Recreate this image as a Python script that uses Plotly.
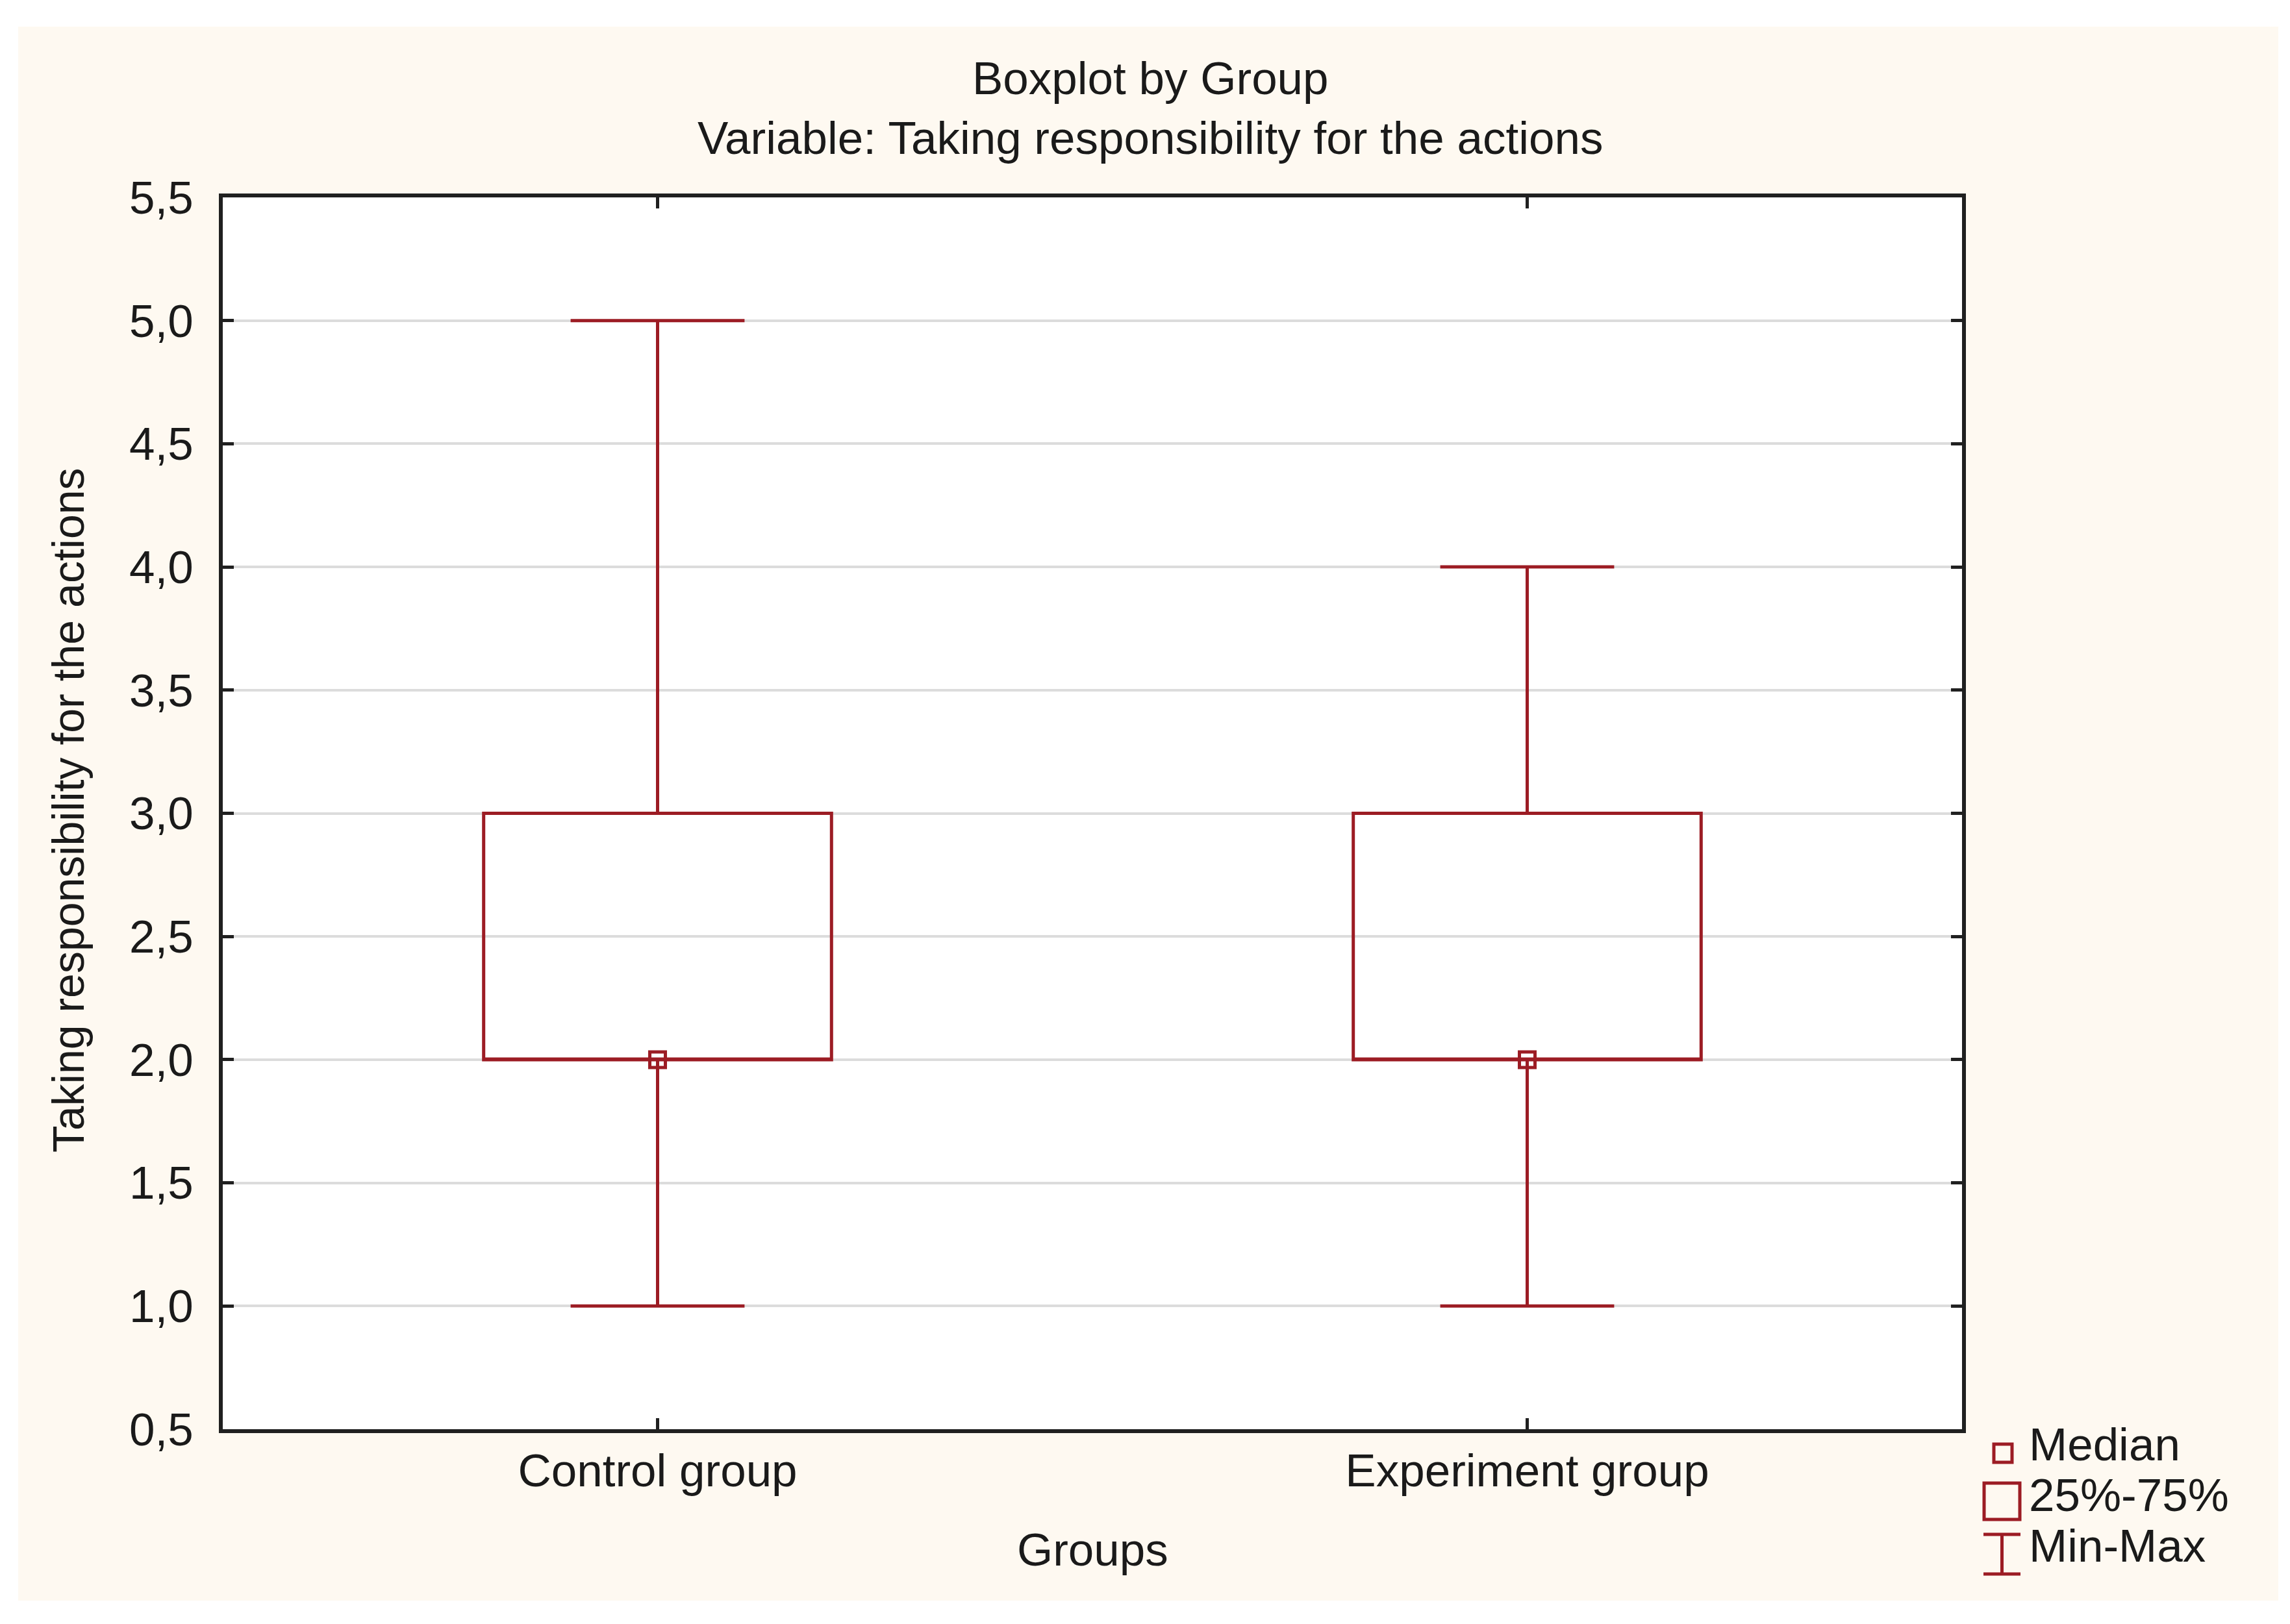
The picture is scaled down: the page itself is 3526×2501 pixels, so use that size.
import plotly.graph_objects as go

# ---------------- data ----------------
groups = ["Control group", "Experiment group"]
minimum = [1.0, 1.0]
q25 = [2.0, 2.0]
median = [2.0, 2.0]
q75 = [3.0, 3.0]
maximum = [5.0, 4.0]

y_tickvals = [0.5, 1.0, 1.5, 2.0, 2.5, 3.0, 3.5, 4.0, 4.5, 5.0, 5.5]
y_ticktext = ["0,5", "1,0", "1,5", "2,0", "2,5", "3,0", "3,5", "4,0", "4,5", "5,0", "5,5"]

legend_labels = ["Median", "25%-75%", "Min-Max"]

# ---------------- layout constants ----------------
W, H = 3526, 2501
L, R, T, B = 335, 3013, 296, 2193
RED = "#9C1C24"
INK = "#1A1A1A"
CREAM = "#FEF9F1"
FONT = "Liberation Sans, Arial, sans-serif"
FS = 71


def fx(px):
    return (px - L) / (R - L)


def fy(py):
    return (B - py) / (B - T)


fig = go.Figure()

fig.add_trace(go.Box(
    x=groups, q1=q25, median=median, q3=q75,
    lowerfence=minimum, upperfence=maximum,
    width=0.4, whiskerwidth=0.5,
    fillcolor="rgba(0,0,0,0)",
    line=dict(color=RED, width=5),
    boxpoints=False, showlegend=False, hoverinfo="skip",
))

fig.add_trace(go.Scatter(
    x=groups, y=median, mode="markers",
    marker=dict(symbol="square-open", size=24, color=RED,
                line=dict(width=5, color=RED)),
    showlegend=False, hoverinfo="skip",
))

shapes = [
    # cream panel
    dict(type="rect", xref="paper", yref="paper", layer="below",
         x0=fx(20), x1=fx(3500), y0=fy(2457), y1=fy(33),
         fillcolor=CREAM, line=dict(width=0)),
    # white plot area
    dict(type="rect", xref="paper", yref="paper", layer="below",
         x0=0, x1=1, y0=0, y1=1, fillcolor="white", line=dict(width=0)),
    # legend: median square
    dict(type="rect", xref="paper", yref="paper",
         x0=fx(3062), x1=fx(3090), y0=fy(2244), y1=fy(2216),
         line=dict(color=RED, width=5), fillcolor="rgba(0,0,0,0)"),
    # legend: box
    dict(type="rect", xref="paper", yref="paper",
         x0=fx(3047), x1=fx(3102), y0=fy(2332), y1=fy(2276),
         line=dict(color=RED, width=5), fillcolor="rgba(0,0,0,0)"),
    # legend: min-max I-beam
    dict(type="line", xref="paper", yref="paper",
         x0=fx(3046), x1=fx(3103), y0=fy(2355), y1=fy(2355),
         line=dict(color=RED, width=5)),
    dict(type="line", xref="paper", yref="paper",
         x0=fx(3046), x1=fx(3103), y0=fy(2416), y1=fy(2416),
         line=dict(color=RED, width=5)),
    dict(type="line", xref="paper", yref="paper",
         x0=fx(3074.5), x1=fx(3074.5), y0=fy(2355), y1=fy(2416),
         line=dict(color=RED, width=5)),
]

annotations = [
    dict(text="Boxplot by Group", x=fx(1763), y=fy(112), xref="paper", yref="paper",
         xanchor="center", yanchor="middle", showarrow=False,
         font=dict(family=FONT, size=FS, color=INK)),
    dict(text="Variable: Taking responsibility for the actions", x=fx(1763), y=fy(205),
         xref="paper", yref="paper", xanchor="center", yanchor="middle", showarrow=False,
         font=dict(family=FONT, size=FS, color=INK)),
    dict(text="Taking responsibility for the actions", x=fx(97), y=fy(1240),
         xref="paper", yref="paper", xanchor="center", yanchor="middle", showarrow=False,
         textangle=-90, font=dict(family=FONT, size=68, color=INK)),
    dict(text="Groups", x=0.5, y=fy(2378), xref="paper", yref="paper",
         xanchor="center", yanchor="middle", showarrow=False,
         font=dict(family=FONT, size=FS, color=INK)),
]
for lab, cy in zip(legend_labels, [2216, 2294, 2372]):
    annotations.append(dict(text=lab, x=fx(3114), y=fy(cy), xref="paper", yref="paper",
                            xanchor="left", yanchor="middle", showarrow=False,
                            font=dict(family=FONT, size=FS, color=INK)))

fig.update_layout(
    width=W, height=H,
    margin=dict(l=L, r=W - R, t=T, b=H - B, pad=0),
    paper_bgcolor="white", plot_bgcolor="white",
    font=dict(family=FONT, size=FS, color=INK),
    shapes=shapes, annotations=annotations,
    showlegend=False,
)

fig.update_xaxes(
    type="category", categoryorder="array", categoryarray=groups,
    range=[-0.5, 1.5],
    showline=True, linecolor="#202020", linewidth=6, mirror="ticks",
    ticks="inside", ticklen=17, tickwidth=5, tickcolor="#202020",
    showgrid=False, zeroline=False, ticklabelstandoff=-3,
    tickfont=dict(family=FONT, size=FS, color=INK),
)
fig.update_yaxes(
    range=[0.5, 5.5], tickvals=y_tickvals, ticktext=y_ticktext,
    showline=True, linecolor="#202020", linewidth=6, mirror="ticks",
    ticks="inside", ticklen=17, tickwidth=5, tickcolor="#202020",
    showgrid=True, gridcolor="#DCDCDC", gridwidth=4, zeroline=False,
    ticklabelstandoff=25,
    tickfont=dict(family=FONT, size=FS, color=INK),
)

fig.write_html("out.html")
